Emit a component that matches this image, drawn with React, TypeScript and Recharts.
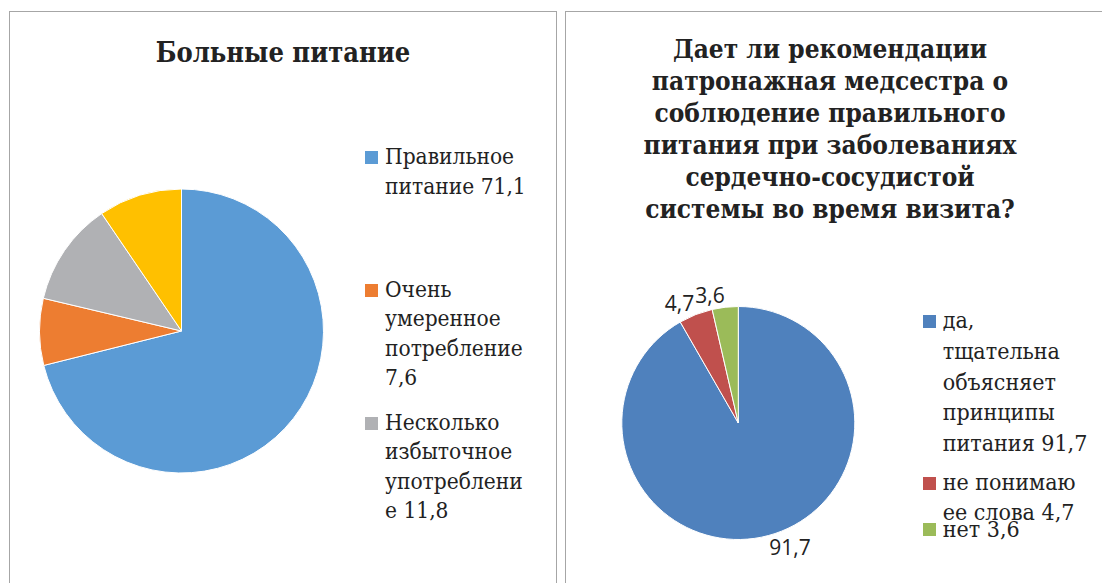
import { Cell, Legend, Pie, PieChart } from "recharts";

// Больные питание
const leftNames = [
  "Правильное питание",
  "Очень умеренное потребление",
  "Несколько избыточное употребление",
  "Избыточное употребление",
];
const leftValues = [71.1, 7.6, 11.8, 9.5];
const leftLegendLines = [
  ["Правильное", "питание 71,1"],
  ["Очень", "умеренное", "потребление", "7,6"],
  ["Несколько", "избыточное", "употреблени", "е 11,8"],
  ["Избыточное", "употребление 9,5"],
];

// Дает ли рекомендации ...
const rightNames = [
  "да, тщательна объясняет принципы питания",
  "не понимаю ее слова",
  "нет",
];
const rightValues = [91.7, 4.7, 3.6];
const rightLegendLines = [
  ["да,", "тщательна", "объясняет", "принципы", "питания 91,7"],
  ["не понимаю", "ее слова 4,7"],
  ["нет 3,6"],
];

const leftTitle = ["Больные питание"];
const rightTitle = [
  "Дает ли рекомендации",
  "патронажная медсестра о",
  "соблюдение правильного",
  "питания при заболеваниях",
  "сердечно-сосудистой",
  "системы во время визита?",
];

const LEFT_COLORS = ["#5B9BD5", "#ED7D31", "#B0B1B4", "#FFC000"];
const RIGHT_COLORS = ["#4F81BD", "#C0504D", "#9BBB59"];

const leftData = leftNames.map((name, i) => ({ name, value: leftValues[i] }));
const rightData = rightNames.map((name, i) => ({ name, value: rightValues[i] }));

const SERIF = '"DejaVu Serif Condensed", "DejaVu Serif", serif';
const TEXT = "#222";

const fmt = (v: number) => String(v).replace(".", ",");

function makeLegend(
  lines: string[][],
  colors: string[],
  tops: number[],
  fontSize: number,
  lineHeight: number,
  maxHeight: number
) {
  return (props: any) => {
    const payload = props.payload ?? [];
    return (
      <div style={{ position: "relative", fontFamily: SERIF, color: TEXT }}>
        {payload.map((entry: any, i: number) => {
          const l = lines[i] ?? [String(entry.value)];
          const top = tops[i] ?? 0;
          if (top + l.length * lineHeight > maxHeight) return null;
          return (
            <div
              key={i}
              style={{ position: "absolute", left: 0, top, whiteSpace: "nowrap" }}
            >
              <div
                style={{
                  position: "absolute",
                  left: 0,
                  top: (lineHeight - 13) / 2 + 1,
                  width: 13,
                  height: 13,
                  background: colors[i],
                }}
              />
              <div
                style={{
                  marginLeft: 20,
                  fontSize,
                  fontFamily: SERIF,
                  lineHeight: `${lineHeight}px`,
                }}
              >
                {l.map((t, j) => (
                  <div key={j}>{t}</div>
                ))}
              </div>
            </div>
          );
        })}
      </div>
    );
  };
}

const RAD = Math.PI / 180;

function outsideLabel(props: any) {
  const { cx, cy, midAngle, outerRadius, value } = props;
  const r = outerRadius + 4;
  const x = cx + r * Math.cos(-midAngle * RAD);
  const y = cy + r * Math.sin(-midAngle * RAD);
  const below = y > cy;
  return (
    <text
      x={x}
      y={y}
      dy={below ? "0.72em" : 0}
      textAnchor={x >= cx ? "start" : "end"}
      fill="#222"
      fontSize={21}
      fontFamily="'Open Sans', sans-serif"
    >
      {fmt(value)}
    </text>
  );
}

function Panel({
  left,
  width,
  children,
}: {
  left: number;
  width: number;
  children: any;
}) {
  return (
    <div
      style={{
        position: "absolute",
        left,
        top: 11,
        width,
        height: 600,
        border: "1px solid #a6a6a6",
        background: "#fff",
      }}
    >
      {children}
    </div>
  );
}

export default function App() {
  return (
    <div
      style={{
        position: "absolute",
        left: 0,
        top: 0,
        width: 1102,
        height: 583,
        overflow: "hidden",
        background: "#fff",
      }}
    >
      <Panel left={9} width={546}>
        <div
          style={{
            position: "absolute",
            left: 0,
            top: 23,
            width: 546,
            textAlign: "center",
            fontFamily: SERIF,
            fontWeight: "bold",
            fontSize: 27,
            lineHeight: "36px",
            color: TEXT,
          }}
        >
          {leftTitle.map((t) => (
            <div key={t}>{t}</div>
          ))}
        </div>
        <PieChart
          width={546}
          height={572}
          margin={{ top: 0, right: 0, bottom: 0, left: 0 }}
        >
          <Pie
            data={leftData}
            dataKey="value"
            nameKey="name"
            cx={171.5}
            cy={319}
            outerRadius={142}
            startAngle={90}
            endAngle={-270}
            stroke="#fff"
            strokeWidth={1}
            isAnimationActive={false}
          >
            {leftData.map((d, i) => (
              <Cell key={d.name} fill={LEFT_COLORS[i]} />
            ))}
          </Pie>
          <Legend
            layout="vertical"
            align="right"
            verticalAlign="top"
            content={makeLegend(
              leftLegendLines,
              LEFT_COLORS,
              [0, 132.75, 265.5, 398.25],
              22.5,
              29.5,
              420
            )}
            wrapperStyle={{ left: 355, top: 130, width: 190, height: 430 }}
          />
        </PieChart>
      </Panel>

      <Panel left={565} width={560}>
        <div
          style={{
            position: "absolute",
            left: 0,
            top: 21,
            width: 528,
            textAlign: "center",
            fontFamily: SERIF,
            fontWeight: "bold",
            fontSize: 26,
            lineHeight: "32.1px",
            color: TEXT,
          }}
        >
          {rightTitle.map((t) => (
            <div key={t}>{t}</div>
          ))}
        </div>
        <PieChart
          width={560}
          height={572}
          margin={{ top: 0, right: 0, bottom: 0, left: 0 }}
        >
          <Pie
            data={rightData}
            dataKey="value"
            nameKey="name"
            cx={172.3}
            cy={411}
            outerRadius={116.5}
            startAngle={90}
            endAngle={-270}
            stroke="#fff"
            strokeWidth={1}
            label={outsideLabel}
            labelLine={false}
            isAnimationActive={false}
          >
            {rightData.map((d, i) => (
              <Cell key={d.name} fill={RIGHT_COLORS[i]} />
            ))}
          </Pie>
          <Legend
            layout="vertical"
            align="right"
            verticalAlign="top"
            content={makeLegend(
              rightLegendLines,
              RIGHT_COLORS,
              [0, 161.5, 208.2],
              23,
              30.6,
              300
            )}
            wrapperStyle={{ left: 356.7, top: 293.4, width: 200, height: 300 }}
          />
        </PieChart>
      </Panel>
    </div>
  );
}
